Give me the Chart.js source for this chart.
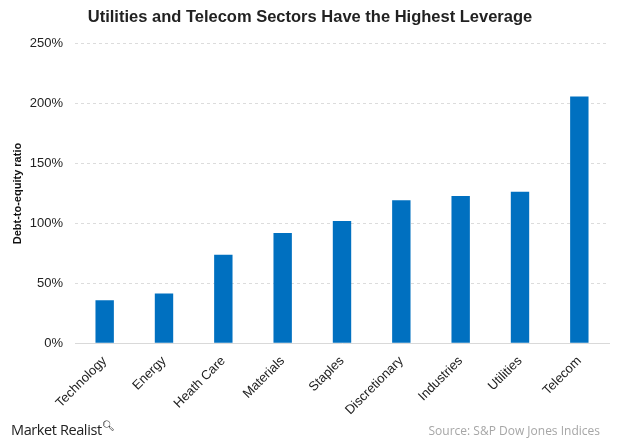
<!DOCTYPE html>
<html><head><meta charset="utf-8">
<script src="https://cdn.jsdelivr.net/npm/chart.js@4"></script>
<style>
html,body{margin:0;padding:0;background:#fff;}
#wrap{position:relative;width:620px;height:443px;}
#logo{position:absolute;left:11px;top:418px;font-family:"Open Sans","Liberation Sans",sans-serif;font-size:14.5px;color:#222;letter-spacing:-0.4px;}
#logo sup{font-size:10px;color:#333;}
#source{position:absolute;right:20px;top:422px;font-family:"Open Sans","Liberation Sans",sans-serif;font-size:12px;color:#a6a6a6;}
</style></head>
<body><div id="wrap"><canvas id="c" width="620" height="443"></canvas>
<div id="logo">Market Realist<sup>&#x1F50D;&#xFE0E;</sup></div>
<div id="source">Source: S&amp;P Dow Jones Indices</div></div>
<script>
const categories = ["Technology","Energy","Heath Care","Materials","Staples","Discretionary","Industries","Utilities","Telecom"];
const debtToEquity = [36, 41.5, 74, 92, 102, 119.5, 123, 126.5, 206];
const yTicks = [0, 50, 100, 150, 200, 250];

new Chart(document.getElementById('c'), {
  type: 'bar',
  data: { labels: categories, datasets: [{ data: debtToEquity, backgroundColor: '#0070c0', categoryPercentage: 1, barPercentage: 0.31 }] },
  options: {
    responsive: false, animation: false,
    layout: { padding: { left: 11, right: 11, top: 0, bottom: 23 } },
    plugins: {
      legend: { display: false }, tooltip: { enabled: false },
      title: { display: true, text: 'Utilities and Telecom Sectors Have the Highest Leverage', color: '#222',
        font: { family: 'Liberation Sans', size: 16.5, weight: 'bold' }, padding: { top: 8, bottom: 16 } }
    },
    scales: {
      x: {
        grid: { display: false }, border: { color: '#d9d9d9' },
        ticks: { color: '#222', font: { family: 'Liberation Sans', size: 13 }, maxRotation: 45, minRotation: 45, padding: 2 }
      },
      y: {
        min: 0, max: 250,
        afterBuildTicks: a => { a.ticks = yTicks.map(v => ({ value: v })); },
        afterFit: s => { s.width = 64; },
        grid: { color: '#dcdcdc', drawTicks: false, lineWidth: 1 },
        border: { display: false, dash: [3, 3] },
        ticks: { color: '#222', font: { family: 'Liberation Sans', size: 13 }, padding: 12, callback: v => v + '%' },
        title: { display: true, text: 'Debt-to-equity ratio', color: '#111', font: { family: 'Liberation Sans', size: 11, weight: 'bold' }, padding: { top: 0, bottom: 0 } }
      }
    }
  }
});
</script></body></html>
